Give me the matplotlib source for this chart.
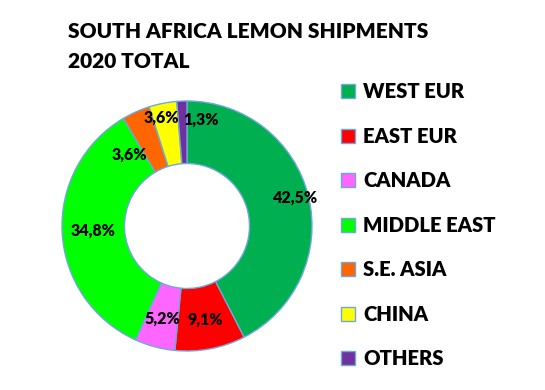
import numpy as np
import matplotlib
matplotlib.use("Agg")
from matplotlib import pyplot as plt
from matplotlib.patches import Patch

plt.rcParams['font.family'] = ['Lato', 'DejaVu Sans']

regions = ["WEST EUR", "EAST EUR", "CANADA", "MIDDLE EAST", "S.E. ASIA", "CHINA", "OTHERS"]
shares = [42.5, 9.1, 5.2, 34.8, 3.6, 3.6, 1.3]
colors = ["#00B050", "#FF0000", "#FF66FF", "#00FF00", "#FF6600", "#FFFF00", "#7030A0"]
# label placement tweaks (radius fraction, angle shift in degrees)
label_r = [0.9, 0.76, 0.77, 0.75, 0.73, 0.89, 0.86]
label_shift = [1, 0, 0, 0, 15, 2, -10]

fig = plt.figure(figsize=(5.45, 3.9), dpi=100)
ax = fig.add_axes([62 / 545, 39 / 390, 250 / 545, 250 / 390])

wedges, _ = ax.pie(shares, colors=colors, startangle=90, counterclock=False,
                   radius=1.0, wedgeprops=dict(width=0.5, edgecolor="#6FA8DC", linewidth=1.0))
ax.set_xlim(-1, 1)
ax.set_ylim(-1, 1)
ax.set_aspect('equal')

for w, v, r, s in zip(wedges, shares, label_r, label_shift):
    a = np.deg2rad((w.theta1 + w.theta2) / 2 + s)
    ax.text(r * np.cos(a), r * np.sin(a), f"{v:.1f}%".replace(".", ","),
            ha='center', va='center', fontsize=11.5, fontweight=800, color='black')

fig.text(68 / 545, 1 - 31 / 390, "SOUTH AFRICA LEMON SHIPMENTS", fontsize=15,
         fontweight=800, va='center', ha='left')
fig.text(68 / 545, 1 - 62 / 390, "2020 TOTAL", fontsize=15,
         fontweight=800, va='center', ha='left')

handles = [Patch(facecolor=c, edgecolor="#6FA8DC", linewidth=1.0) for c in colors]
fig.legend(handles, regions, loc='upper left', bbox_to_anchor=(333 / 545, 1 - 74 / 390),
           frameon=False, prop=dict(size=14.6, weight=800), handlelength=0.68,
           handleheight=0.68, handletextpad=0.4, labelspacing=1.26, borderaxespad=0)

fig.savefig("out.png", dpi=100)
